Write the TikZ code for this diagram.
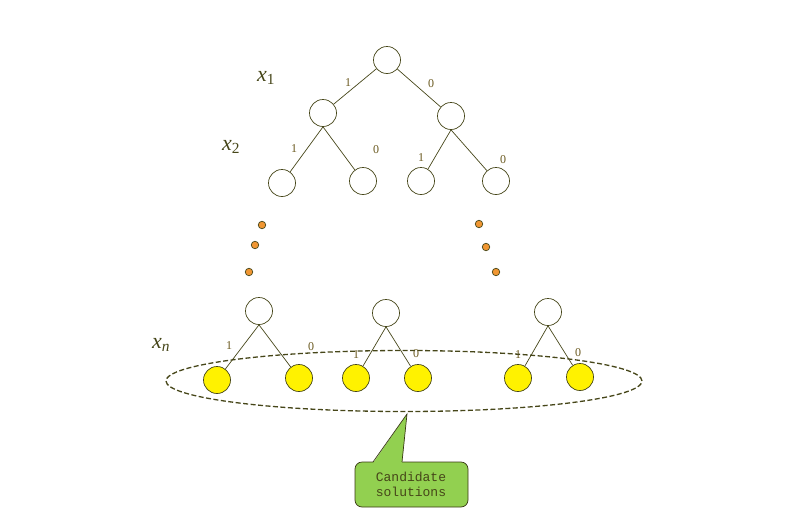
\documentclass[tikz,border=0pt]{standalone}
\usepackage{fontspec}
\setmainfont{Liberation Serif}
\setmonofont{Liberation Mono}
\usetikzlibrary{shapes.geometric}

\definecolor{olivedark}{RGB}{70,70,25}
\definecolor{labelbrown}{RGB}{105,88,30}
\definecolor{dotorange}{RGB}{240,150,50}
\definecolor{boxgreen}{RGB}{146,208,80}

\begin{document}
\begin{tikzpicture}[x=1pt, y=-1pt, line width=0.7pt,
  vert/.style={circle, draw=olivedark, minimum size=27pt, inner sep=0pt},
  leaf/.style={vert, fill=yellow},
  dotnode/.style={circle, draw=olivedark, fill=dotorange, minimum size=7.5pt, inner sep=0pt},
  bit/.style={text=labelbrown, font=\fontsize{12}{12}\selectfont, inner sep=0pt},
  varlab/.style={text=olivedark, font=\fontsize{22}{22}\selectfont\itshape, inner sep=0pt},
  branch/.style={draw=olivedark}]

  \useasboundingbox (0,0) rectangle (804,517);

  % upper levels
  \node[vert] (R)   at (387,60)  {};
  \node[vert] (A)   at (323,113) {};
  \node[vert] (B)   at (451,116) {};
  \node[vert] (AA)  at (282,183) {};
  \node[vert] (AB)  at (363,181) {};
  \node[vert] (BA)  at (421,181) {};
  \node[vert] (BB)  at (496,181) {};

  % dots
  \node[dotnode] (dl1) at (262,225) {};
  \node[dotnode] (dl2) at (255,245) {};
  \node[dotnode] (dl3) at (249,272) {};
  \node[dotnode] (dr1) at (479,224) {};
  \node[dotnode] (dr2) at (486,247) {};
  \node[dotnode] (dr3) at (496,272) {};

  % level n-1 and leaves
  \node[vert] (P1) at (259,311) {};
  \node[vert] (P2) at (386,313) {};
  \node[vert] (P3) at (548,312) {};
  \node[leaf] (L1) at (217,380) {};
  \node[leaf] (L2) at (299,378) {};
  \node[leaf] (L3) at (356,378) {};
  \node[leaf] (L4) at (418,378) {};
  \node[leaf] (L5) at (518,378) {};
  \node[leaf] (L6) at (580,377) {};

  \path[branch] (R) edge (A)
        (R) edge (B)
        (A.south) edge (AA)
        (A.south) edge (AB)
        (B.south) edge (BA)
        (B.south) edge (BB)
        (P1.south) edge (L1)
        (P1.south) edge (L2)
        (P2.south) edge (L3)
        (P2.south) edge (L4)
        (P3.south) edge (L5)
        (P3.south) edge (L6);

  % branch labels
  \node[bit] (b1)  at (348,83)  {1};
  \node[bit] (b2)  at (431,84)  {0};
  \node[bit] (b3)  at (294,149) {1};
  \node[bit] (b4)  at (376,150) {0};
  \node[bit] (b5)  at (421,158) {1};
  \node[bit] (b6)  at (503,160) {0};
  \node[bit] (b7)  at (229,346) {1};
  \node[bit] (b8)  at (311,347) {0};
  \node[bit] (b9)  at (356,355) {1};
  \node[bit] (b10) at (416,354) {0};
  \node[bit] (b11) at (518,355) {1};
  \node[bit] (b12) at (578,353) {0};

  % variables
  \node[varlab] (x1) at (266,78)  {x\textsubscript{\upshape 1}};
  \node[varlab] (x2) at (231,147) {x\textsubscript{\upshape 2}};
  \node[varlab] (xn) at (161,345) {x\textsubscript{n}};

  % candidate set
  \node[ellipse, draw=olivedark, dash pattern=on 5pt off 2.5pt, line width=1.3pt,
        minimum width=476pt, minimum height=61pt] (cand) at (404,381) {};
  \coordinate (tip) at (407,414);
  \draw[draw=olivedark!80!black, fill=boxgreen, line width=0.7pt, rounded corners=7pt]
    (355,462) rectangle (468,507);
  \fill[boxgreen] (373,463.2) -- (tip) -- (402,463.2) -- cycle;
  \draw[draw=olivedark!80!black, line width=0.7pt] (373,462) -- (tip) -- (402,462);
  \node[align=center, text=olivedark, font=\ttfamily\fontsize{13}{15}\selectfont]
    (candtext) at (411,484) {Candidate\\solutions};
\end{tikzpicture}
\end{document}
